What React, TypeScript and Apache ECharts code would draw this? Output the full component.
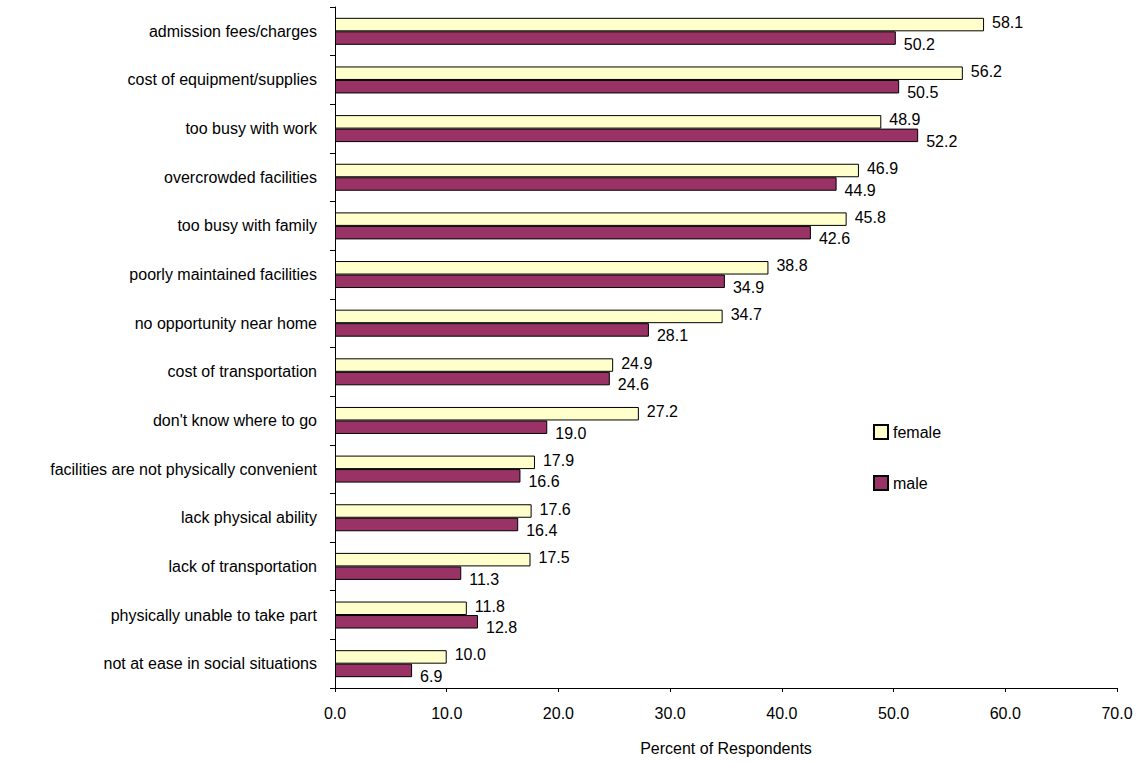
import React, { useEffect, useRef } from "react";
import * as echarts from "echarts";

const categories = [
  "admission fees/charges",
  "cost of equipment/supplies",
  "too busy with work",
  "overcrowded facilities",
  "too busy with family",
  "poorly maintained facilities",
  "no opportunity near home",
  "cost of transportation",
  "don't know where to go",
  "facilities are not physically convenient",
  "lack physical ability",
  "lack of transportation",
  "physically unable to take part",
  "not at ease in social situations",
];

const femaleValues = [58.1, 56.2, 48.9, 46.9, 45.8, 38.8, 34.7, 24.9, 27.2, 17.9, 17.6, 17.5, 11.8, 10.0];
const maleValues = [50.2, 50.5, 52.2, 44.9, 42.6, 34.9, 28.1, 24.6, 19.0, 16.6, 16.4, 11.3, 12.8, 6.9];

const xTicks = { min: 0, max: 70, interval: 10 };
const xTitle = "Percent of Respondents";

const FONT = "'Liberation Sans', Arial, sans-serif";

export default function App() {
  const ref = useRef<HTMLDivElement>(null);
  useEffect(() => {
    if (!ref.current) return;
    const chart = echarts.init(ref.current, undefined, { renderer: "svg" });
    chart.setOption({
      animation: false,
      backgroundColor: "#ffffff",
      textStyle: { fontFamily: FONT },
      grid: { left: 335, right: 23, top: 7, bottom: 75, containLabel: false },
      legend: {
        orient: "vertical",
        left: 873,
        top: 424,
        padding: 0,
        itemWidth: 14,
        itemHeight: 14,
        itemGap: 35,
        icon: "rect",
        textStyle: { fontFamily: FONT, fontSize: 16, color: "#000" },
        data: ["female", "male"],
      },
      xAxis: {
        type: "value",
        min: xTicks.min,
        max: xTicks.max,
        interval: xTicks.interval,
        name: xTitle,
        nameLocation: "middle",
        nameGap: 52,
        nameTextStyle: { fontFamily: FONT, fontSize: 16, color: "#000" },
        axisLine: { show: true, lineStyle: { color: "#000", width: 1 } },
        axisTick: { show: true, length: 4, lineStyle: { color: "#000" } },
        splitLine: { show: false },
        axisLabel: {
          fontFamily: FONT,
          fontSize: 16,
          color: "#000",
          margin: 17,
          formatter: (v: number) => v.toFixed(1),
        },
      },
      yAxis: {
        type: "category",
        inverse: true,
        data: categories,
        axisLine: { show: true, lineStyle: { color: "#000", width: 1 } },
        axisTick: { show: true, length: 5, alignWithLabel: false, lineStyle: { color: "#000" } },
        axisLabel: { fontFamily: FONT, fontSize: 16, color: "#000", margin: 18 },
      },
      series: [
        {
          name: "female",
          type: "bar",
          data: femaleValues,
          barWidth: 13.5,
          barGap: "0%",
          itemStyle: { color: "#FFFFCC", borderColor: "#000", borderWidth: 1 },
          label: {
            show: true,
            position: "right",
            distance: 8,
            offset: [0, -2],
            fontFamily: FONT,
            fontSize: 16,
            color: "#000",
            formatter: (p: any) => Number(p.value).toFixed(1),
          },
        },
        {
          name: "male",
          type: "bar",
          data: maleValues,
          barWidth: 13.5,
          barGap: "0%",
          itemStyle: { color: "#993366", borderColor: "#000", borderWidth: 1 },
          label: {
            show: true,
            position: "right",
            distance: 8,
            offset: [0, 6],
            fontFamily: FONT,
            fontSize: 16,
            color: "#000",
            formatter: (p: any) => Number(p.value).toFixed(1),
          },
        },
      ],
    });
    return () => chart.dispose();
  }, []);
  return <div ref={ref} style={{ width: 1140, height: 763, position: "absolute", left: 0, top: 0 }} />;
}
